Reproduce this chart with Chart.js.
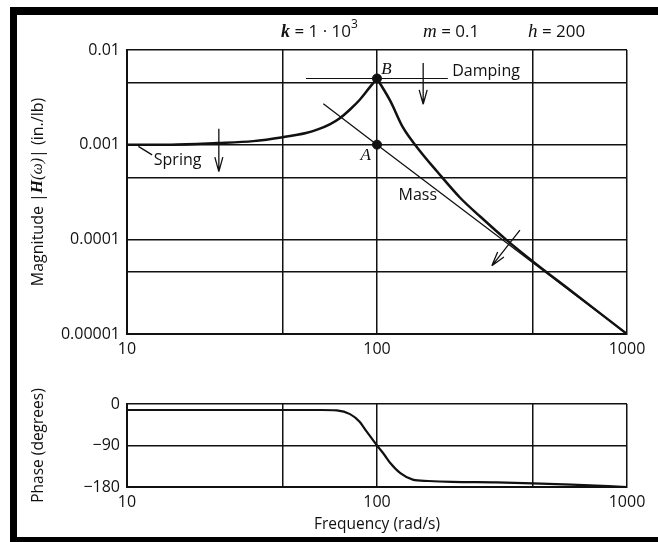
<!DOCTYPE html>
<html>
<head>
<meta charset="utf-8">
<script src="https://cdn.jsdelivr.net/npm/chart.js@4"></script>
<style>
  html, body { margin: 0; padding: 0; background: #fff; }
  body { width: 658px; height: 542px; position: relative; overflow: hidden; }
  #frame { position: absolute; left: 10px; top: 7px; width: 700px; height: 535px; box-sizing: border-box;
           border-left: 7px solid #000; border-top: 8px solid #000; border-bottom: 5px solid #000; }
  canvas { position: absolute; left: 0; }
  #mag { top: 0; }
  #phase { top: 370px; }
</style>
</head>
<body>
<div id="frame"></div>
<canvas id="mag" width="658" height="370"></canvas>
<canvas id="phase" width="658" height="172"></canvas>
<script>
// axes
const freqGrid = [10, 42, 100, 420, 1000];
const freqLabels = [10, 100, 1000];
const magGrid = [0.00001, 0.000045, 0.0001, 0.00045, 0.001, 0.0045, 0.01];
const magLabelVals = [0.00001, 0.0001, 0.001, 0.01];
const magLabels = ['0.00001', '0.0001', '0.001', '0.01'];
const phaseGrid = [-180, -90, 0];
const phaseLabels = ['\u2212180', '\u221290', '0'];

// magnitude curve (rising branch up to B, then falling)
const riseF = [10, 15, 23, 32, 42, 52, 58, 65, 71, 78, 85.5, 94, 100];
const riseVal = [0.001, 0.001, 0.00104, 0.00109, 0.0012, 0.00133, 0.00145, 0.00165, 0.0019, 0.00235, 0.003, 0.0041, 0.005];
const fallF = [100, 113, 127, 145, 174, 215, 260, 331, 420, 600, 1000];
const fallVal = [0.005, 0.0029, 0.00152, 0.00093, 0.00052, 0.000275, 0.000172, 0.0000975, 0.0000585, 0.0000283, 0.00001];

// asymptotes and marked points
const massF = [61, 100, 1000];
const massVal = [0.0027, 0.001, 0.00001];
const dampF = [52, 192];
const dampVal = [0.005, 0.005];
const markF = [100, 100];
const markVal = [0.001, 0.005];

// phase curve
const phaseF = [10, 30, 60, 69, 78, 85, 91, 100, 107, 113, 124, 139, 160, 200, 300, 420, 600, 1000];
const phaseDeg = [-13, -13, -13, -14, -22, -38, -60, -90, -110, -128, -150, -164, -167, -169, -170, -172, -175, -180];

// arrows (tail -> head) and label anchors, in data units
const arrowFrom = [[23.3, 0.00147], [153, 0.0073], [373, 0.000125]];
const arrowTo = [[23.3, 0.00052], [153, 0.00267], [288, 0.0000525]];
const springLeader = [[11.1, 0.00096], [12.6, 0.00078]];
const noteText = ['Spring', 'Damping', 'Mass', 'A', 'B'];
const notePos = [[12.8, 0.00068], [200, 0.0059], [122, 0.00029], [86, 0.00077], [104, 0.0062]];

const ink = '#111';
const sans = '"Open Sans", "DejaVu Sans", sans-serif';
const serif = '"Liberation Serif", "DejaVu Serif", serif';
const pts = (xs, ys) => xs.map((x, i) => ({ x, y: ys[i] }));

function freqAxis(h, title) {
  return {
    type: 'logarithmic', min: 10, max: 1000,
    afterBuildTicks: s => { s.ticks = freqGrid.map(v => ({ value: v })); },
    afterFit: s => { s.height = h; },
    grid: { color: ink, lineWidth: 1.5, drawTicks: false },
    border: { color: ink, width: 2 },
    ticks: {
      color: ink, font: { family: sans, size: 16 }, padding: 6, maxRotation: 0, autoSkip: false,
      callback: v => freqLabels.includes(v) ? String(v) : ''
    },
    title: title
      ? { display: true, text: title, color: ink, font: { family: sans, size: 15.5 }, padding: { top: 0, bottom: 8 } }
      : { display: false }
  };
}

// draws text pieces one after another
function runs(ctx, pieces, x0, y0) {
  let x = x0;
  pieces.forEach(p => {
    ctx.font = p[1];
    ctx.fillText(p[0], x, y0 + (p[2] || 0));
    x += ctx.measureText(p[0]).width;
  });
}
function runsWidth(ctx, pieces) {
  return pieces.reduce((w, p) => { ctx.font = p[1]; return w + ctx.measureText(p[0]).width; }, 0);
}

const magNotes = {
  id: 'magNotes',
  afterDatasetsDraw(chart) {
    const { ctx, chartArea: a, scales: { x, y } } = chart;
    const P = ([f, v]) => [x.getPixelForValue(f), y.getPixelForValue(v)];
    ctx.save();
    ctx.strokeStyle = ink;
    ctx.fillStyle = ink;
    ctx.lineWidth = 1.3;

    arrowFrom.forEach((from, i) => {
      const [x0, y0] = P(from), [x1, y1] = P(arrowTo[i]);
      const ang = Math.atan2(y1 - y0, x1 - x0);
      ctx.beginPath();
      ctx.moveTo(x0, y0);
      ctx.lineTo(x1, y1);
      for (const s of [-1, 1]) {
        ctx.moveTo(x1, y1);
        ctx.lineTo(x1 - 15 * Math.cos(ang + s * 0.27), y1 - 15 * Math.sin(ang + s * 0.27));
      }
      ctx.stroke();
    });

    const [l0, l1] = springLeader.map(P);
    ctx.beginPath();
    ctx.moveTo(l0[0], l0[1]);
    ctx.lineTo(l1[0], l1[1]);
    ctx.stroke();

    ctx.textBaseline = 'middle';
    noteText.forEach((t, i) => {
      const [px, py] = P(notePos[i]);
      ctx.font = t.length === 1 ? `italic 17px ${serif}` : `16px ${sans}`;
      ctx.fillText(t, px, py);
    });

    // parameters above the plot
    const ty = a.top - 18;
    runs(ctx, [['k', `bold italic 18px ${serif}`], [' = 1 \u00b7 10', `17px ${sans}`], ['3', `12px ${sans}`, -7]], 281, ty);
    runs(ctx, [['m', `italic 19px ${serif}`], [' = 0.1', `17px ${sans}`]], 423, ty);
    runs(ctx, [['h', `italic 19px ${serif}`], [' = 200', `17px ${sans}`]], 528, ty);

    // rotated y title
    const title = [['Magnitude |', `16px ${sans}`], ['H', `bold italic 17px ${serif}`], ['(\u03c9)', `italic 16px ${serif}`], ['| (in./lb)', `16px ${sans}`]];
    ctx.translate(38, (a.top + a.bottom) / 2);
    ctx.rotate(-Math.PI / 2);
    runs(ctx, title, -runsWidth(ctx, title) / 2, 0);
    ctx.restore();
  }
};

new Chart(document.getElementById('mag'), {
  type: 'scatter',
  data: {
    datasets: [
      { data: pts(riseF, riseVal), showLine: true, borderColor: ink, borderWidth: 2.5, pointRadius: 0, cubicInterpolationMode: 'monotone' },
      { data: pts(fallF, fallVal), showLine: true, borderColor: ink, borderWidth: 2.5, pointRadius: 0, cubicInterpolationMode: 'monotone' },
      { data: pts(massF, massVal), showLine: true, borderColor: ink, borderWidth: 1.3, pointRadius: 0 },
      { data: pts(dampF, dampVal), showLine: true, borderColor: ink, borderWidth: 1.2, pointRadius: 0 },
      { data: pts(markF, markVal), showLine: false, pointRadius: 4.5, backgroundColor: ink, borderColor: ink }
    ]
  },
  options: {
    responsive: false,
    animation: false,
    layout: { padding: { top: 50, right: 31, left: 0, bottom: 0 } },
    plugins: { legend: { display: false }, tooltip: { enabled: false } },
    scales: {
      x: freqAxis(36),
      y: {
        type: 'logarithmic', min: 0.00001, max: 0.01,
        afterBuildTicks: s => { s.ticks = magGrid.map(v => ({ value: v })); },
        afterFit: s => { s.width = 127; },
        grid: { color: ink, lineWidth: 1.5, drawTicks: false },
        border: { color: ink, width: 2 },
        ticks: {
          color: ink, font: { family: sans, size: 16 }, padding: 7, autoSkip: false,
          callback: v => { const i = magLabelVals.indexOf(v); return i < 0 ? '' : magLabels[i]; }
        }
      }
    }
  },
  plugins: [magNotes]
});

new Chart(document.getElementById('phase'), {
  type: 'scatter',
  data: {
    datasets: [
      { data: pts(phaseF, phaseDeg), showLine: true, borderColor: ink, borderWidth: 2.2, pointRadius: 0, cubicInterpolationMode: 'monotone' }
    ]
  },
  options: {
    responsive: false,
    animation: false,
    layout: { padding: { top: 34, right: 31, left: 0, bottom: 0 } },
    plugins: { legend: { display: false }, tooltip: { enabled: false } },
    scales: {
      x: freqAxis(55, 'Frequency (rad/s)'),
      y: {
        type: 'linear', min: -180, max: 0,
        afterBuildTicks: s => { s.ticks = phaseGrid.map(v => ({ value: v })); },
        afterFit: s => { s.width = 127; },
        grid: { color: ink, lineWidth: 1.5, drawTicks: false },
        border: { color: ink, width: 2 },
        ticks: {
          color: ink, font: { family: sans, size: 16 }, padding: 7, autoSkip: false,
          callback: v => phaseLabels[phaseGrid.indexOf(v)]
        },
        title: { display: true, text: 'Phase (degrees)', color: ink, font: { family: sans, size: 15.5 }, padding: { top: 29, bottom: 0 } }
      }
    }
  }
});
</script>
</body>
</html>
